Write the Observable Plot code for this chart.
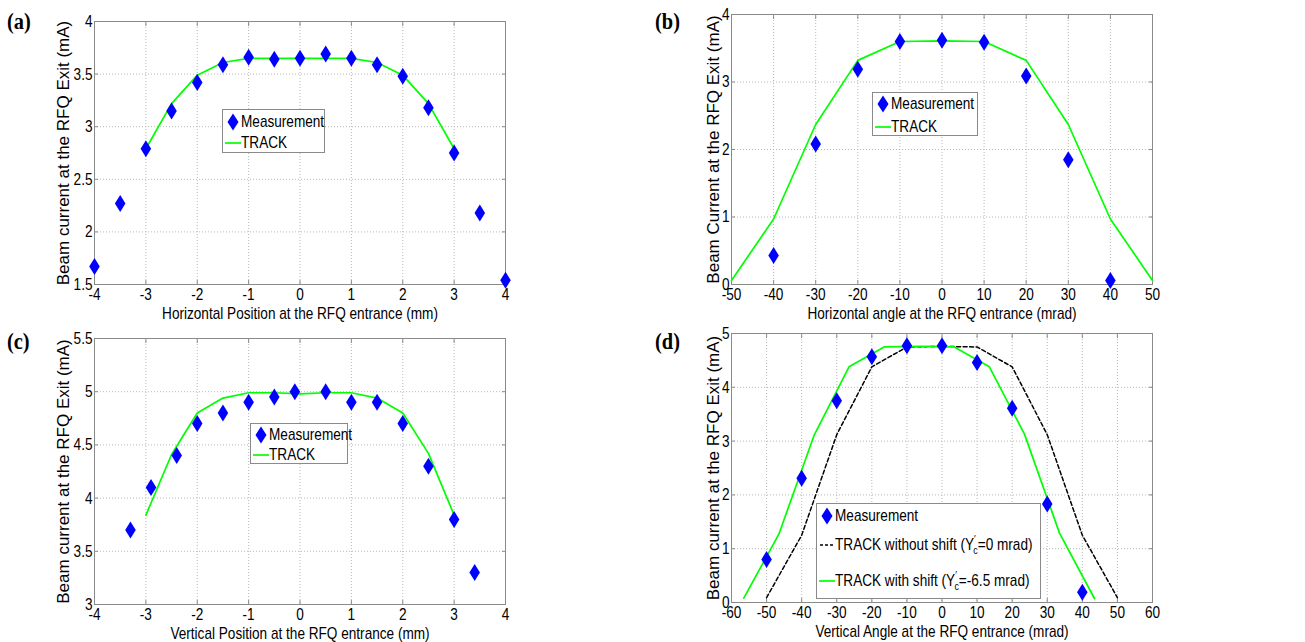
<!DOCTYPE html>
<html><head><meta charset="utf-8">
<script src="https://cdn.jsdelivr.net/npm/d3@7"></script>
<script src="https://cdn.jsdelivr.net/npm/@observablehq/plot@0.6"></script>
<style>
body{margin:0;background:#fff;}
#root{position:relative;width:1305px;height:642px;overflow:hidden;background:#fff;font-family:"Liberation Sans",Arial,sans-serif;}
.plab{position:absolute;font-family:"Liberation Serif","Times New Roman",serif;font-weight:bold;font-size:24px;line-height:1;transform:scaleX(0.85);transform-origin:left top;}
.legend{position:absolute;border:1px solid #8a8a8a;background:#fff;box-sizing:border-box;}
.row{position:absolute;left:0;height:20px;font-size:17px;line-height:20px;white-space:nowrap;color:#000;}
.row svg{position:absolute;top:0;left:0;}
.row span.t{position:absolute;left:18px;top:0;transform:scaleX(0.8);transform-origin:left center;}
sup,sub{font-size:11px;line-height:0;}
</style>
</head><body><div id="root"></div>
<script>
// ---------- data ----------
// (a) horizontal position scan
const aMeasX = [-4,-3.5,-3,-2.5,-2,-1.5,-1,-0.5,0,0.5,1,1.5,2,2.5,3,3.5,4];
const aMeasY = [1.67,2.27,2.79,3.15,3.42,3.59,3.66,3.64,3.65,3.69,3.65,3.59,3.48,3.18,2.75,2.18,1.54];
const aTrackX = [-3,-2.5,-2,-1.5,-1,-0.5,0,0.5,1,1.5,2,2.5,3];
const aTrackY = [2.79,3.22,3.49,3.61,3.65,3.65,3.65,3.65,3.65,3.61,3.49,3.22,2.79];
// (b) horizontal angle scan
const bMeasX = [-40,-30,-20,-10,0,10,20,30,40];
const bMeasY = [0.43,2.08,3.19,3.60,3.62,3.59,3.09,1.85,0.06];
const bTrackX = [-50,-40,-30,-20,-10,0,10,20,30,40,50];
const bTrackY = [0.06,0.97,2.37,3.32,3.60,3.61,3.60,3.32,2.37,0.97,0.06];
// (c) vertical position scan
const cMeasX = [-3.3,-2.9,-2.4,-2,-1.5,-1,-0.5,-0.1,0.5,1,1.5,2,2.5,3,3.4];
const cMeasY = [3.70,4.10,4.40,4.70,4.80,4.90,4.95,5.00,5.00,4.90,4.90,4.70,4.30,3.80,3.30];
const cTrackX = [-3,-2.5,-2,-1.5,-1,-0.5,0,0.5,1,1.5,2,2.5,3];
const cTrackY = [3.84,4.41,4.80,4.94,4.99,4.99,4.98,4.99,4.99,4.94,4.80,4.42,3.84];
// (d) vertical angle scan
const dMeasX = [-50,-40,-30,-20,-10,0,10,20,30,40];
const dMeasY = [0.80,2.31,3.75,4.57,4.77,4.77,4.46,3.61,1.83,0.19];
const dNoShiftX = [-50,-40,-30,-20,-10,0,10,20,30,40,50];
const dNoShiftY = [0.09,1.25,3.12,4.38,4.75,4.76,4.75,4.38,3.12,1.25,0.09];
const dShiftX = [-56.5,-46.5,-36.5,-26.5,-16.5,-6.5,3.5,13.5,23.5,33.5,43.5];
const dShiftY = [0.08,1.27,3.10,4.38,4.75,4.76,4.75,4.38,3.13,1.29,0.07];
// ticks
const posXTicks = [-4,-3,-2,-1,0,1,2,3,4];
const aYTicks = [1.5,2,2.5,3,3.5,4];
const bXTicks = [-50,-40,-30,-20,-10,0,10,20,30,40,50];
const bYTicks = [0,1,2,3,4];
const cYTicks = [3,3.5,4,4.5,5,5.5];
const dXTicks = [-60,-50,-40,-30,-20,-10,0,10,20,30,40,50,60];
const dYTicks = [0,1,2,3,4,5];
// labels
const yLabelA = "Beam current at the RFQ Exit (mA)";
const yLabelB = "Beam Current at the RFQ Exit (mA)";
const xLabelA = "Horizontal Position at the RFQ entrance (mm)";
const xLabelB = "Horizontal angle at the RFQ entrance (mrad)";
const xLabelC = "Vertical Position at the RFQ entrance (mm)";
const xLabelD = "Vertical Angle at the RFQ entrance (mrad)";

const zip = (xs, ys) => xs.map((x, i) => ({x, y: ys[i]}));
const FONT = '"Liberation Sans",Arial,sans-serif';
const BLUE = "#0000ff", GREEN = "#00ff00";
const tallDiamond = {draw(ctx, size){ const r = Math.sqrt(size/Math.PI); const h = r, w = r*0.62;
  ctx.moveTo(0,-h); ctx.lineTo(w,0); ctx.lineTo(0,h); ctx.lineTo(-w,0); ctx.closePath(); }};
const fmt = d => String(d);

function panel(o){
  const marks = [
    Plot.gridX(o.xTicks, {stroke:"#b8b8b8", strokeOpacity:1, strokeDasharray:"1,2"}),
    Plot.gridY(o.yTicks, {stroke:"#b8b8b8", strokeOpacity:1, strokeDasharray:"1,2"}),
    Plot.frame({stroke:"#8a8a8a"}),
    Plot.axisX(o.xTicks, {tickSize:-4, tickPadding:7, tickFormat:fmt, stroke:"#8a8a8a", label:o.xLabel, labelAnchor:"center", labelArrow:"none", labelOffset:o.xLabelOffset}),
    Plot.axisX(o.xTicks, {anchor:"top", tickSize:-4, tickFormat:()=>"", stroke:"#8a8a8a", label:null}),
    Plot.axisY(o.yTicks, {tickSize:-4, tickPadding:6, tickFormat:fmt, stroke:"#8a8a8a", label:o.yLabel, labelAnchor:"center", labelArrow:"none", labelOffset:o.yLabelOffset}),
    Plot.axisY(o.yTicks, {anchor:"right", tickSize:-4, tickFormat:()=>"", stroke:"#8a8a8a", label:null}),
    ...o.marks
  ];
  const p = Plot.plot({
    width:o.width, height:o.height,
    marginLeft:o.ml, marginRight:o.mr, marginTop:o.mt, marginBottom:o.mb,
    x:{domain:o.xDomain}, y:{domain:o.yDomain},
    style:{fontFamily:FONT, fontSize:"17px", color:"#000", background:"transparent", overflow:"visible"},
    marks
  });
  p.style.position = "absolute"; p.style.left = o.left+"px"; p.style.top = o.top+"px";
  return p;
}
const root = document.getElementById("root");
const meas = (xs, ys) => Plot.dot(zip(xs, ys), {x:"x", y:"y", symbol:tallDiamond, r:8.5, fill:BLUE, stroke:"none"});
const line = (xs, ys, extra={}) => Plot.line(zip(xs, ys), {x:"x", y:"y", stroke:GREEN, strokeWidth:1.7, ...extra});

root.appendChild(panel({left:0, top:0, width:520, height:320, ml:94, mr:15, mt:21, mb:36,
  xDomain:[-4,4], yDomain:[1.5,4], xTicks:posXTicks, yTicks:aYTicks, xLabel:xLabelA, yLabel:yLabelA,
  xLabelOffset:34, yLabelOffset:38,
  marks:[line(aTrackX, aTrackY), meas(aMeasX, aMeasY)]}));
root.appendChild(panel({left:640, top:0, width:530, height:320, ml:91, mr:18, mt:14, mb:36,
  xDomain:[-50,50], yDomain:[0,4], xTicks:bXTicks, yTicks:bYTicks, xLabel:xLabelB, yLabel:yLabelB,
  xLabelOffset:34, yLabelOffset:25,
  marks:[line(bTrackX, bTrackY), meas(bMeasX, bMeasY)]}));
root.appendChild(panel({left:0, top:320, width:520, height:322, ml:94, mr:15, mt:18, mb:38,
  xDomain:[-4,4], yDomain:[3,5.5], xTicks:posXTicks, yTicks:cYTicks, xLabel:xLabelC, yLabel:yLabelA,
  xLabelOffset:34, yLabelOffset:38,
  marks:[line(cTrackX, cTrackY), meas(cMeasX, cMeasY)]}));
root.appendChild(panel({left:640, top:320, width:530, height:322, ml:91, mr:18, mt:13, mb:40,
  xDomain:[-60,60], yDomain:[0,5], xTicks:dXTicks, yTicks:dYTicks, xLabel:xLabelD, yLabel:yLabelA,
  xLabelOffset:34, yLabelOffset:25,
  marks:[line(dNoShiftX, dNoShiftY, {stroke:"#000", strokeWidth:1.5, strokeDasharray:"4,2.5"}),
         line(dShiftX, dShiftY), meas(dMeasX, dMeasY)]}));

// horizontally condense non-rotated svg text (the source image is squeezed horizontally)
root.querySelectorAll("svg text").forEach(t => {
  if (!t.textContent) return;
  let rotated = false;
  for (let n = t; n && n !== root; n = n.parentNode) {
    if (n.getAttribute && /rotate/.test(n.getAttribute("transform") || "")) { rotated = true; break; }
  }
  if (rotated) return;
  const L = t.getComputedTextLength();
  if (L > 0) { t.setAttribute("textLength", (L*0.8).toFixed(2)); t.setAttribute("lengthAdjust", "spacingAndGlyphs"); }
});

// panel letters
[["(a)",7,9],["(b)",655,9],["(c)",7,329],["(d)",655,329]].forEach(([t,x,y])=>{
  const d=document.createElement("div"); d.className="plab"; d.textContent=t; d.style.left=x+"px"; d.style.top=y+"px"; root.appendChild(d);});

// legends
const diamondSvg = `<svg width="18" height="20"><path d="M10,1.5 L15.5,10 L10,18.5 L4.5,10Z" fill="${BLUE}"/></svg>`;
const greenSvg = `<svg width="18" height="20"><line x1="2" x2="18" y1="10" y2="10" stroke="${GREEN}" stroke-width="1.7"/></svg>`;
const dashSvg = `<svg width="18" height="20"><line x1="3" x2="18" y1="10" y2="10" stroke="#000" stroke-width="1.5" stroke-dasharray="3,2"/></svg>`;
function legend(x, y, w, h, rows){
  const b=document.createElement("div"); b.className="legend";
  Object.assign(b.style,{left:x+"px",top:y+"px",width:w+"px",height:h+"px"});
  rows.forEach(([sym, html, ry])=>{
    const r=document.createElement("div"); r.className="row"; r.style.top=(ry-10)+"px";
    r.innerHTML = sym + `<span class="t">${html}</span>`; b.appendChild(r);
  });
  root.appendChild(b);
}
legend(222,109,103,44,[[diamondSvg,"Measurement",12],[greenSvg,"TRACK",33]]);
legend(872,92,106,44,[[diamondSvg,"Measurement",11],[greenSvg,"TRACK",34]]);
legend(250,423,98,41,[[diamondSvg,"Measurement",11],[greenSvg,"TRACK",31]]);
legend(816,503,225,96,[[diamondSvg,"Measurement",12],
  [dashSvg,"TRACK without shift (Y<sup>′</sup><sub style=\"margin-left:-3px\">c</sub>=0 mrad)",41],
  [greenSvg,"TRACK with shift (Y<sup>′</sup><sub style=\"margin-left:-3px\">c</sub>=-6.5 mrad)",77]]);
</script>
</body></html>
